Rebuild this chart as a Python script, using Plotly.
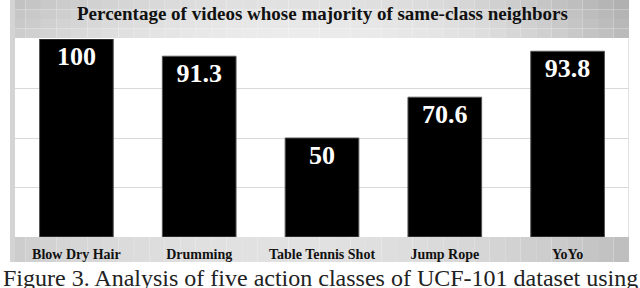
import plotly.graph_objects as go

categories = ["Blow Dry Hair", "Drumming", "Table Tennis Shot", "Jump Rope", "YoYo"]
values = [100, 91.3, 50, 70.6, 93.8]
title_text = "Percentage of videos whose majority of same-class neighbors"
caption_text = "Figure 3. Analysis of five action classes of UCF-101 dataset using"

W, H = 640, 288
L, R, T, B = 15, 11, 39, 51
PW, PH = W - L - R, H - T - B


def px_x(x):
    return (x - L) / PW


def px_y(y):
    return (H - B - y) / PH


def gray(v):
    v = int(max(0, min(255, v)))
    return f"rgb({v},{v},{v})"


shapes = []
# top title band with soft gradient
ncol, nrow = 40, 4
x0b, x1b = 10, 629
for i in range(ncol):
    xa = x0b + (x1b - x0b) * i / ncol
    xb = x0b + (x1b - x0b) * (i + 1) / ncol
    xc = (xa + xb) / 2
    for j in range(nrow):
        ya = 38 * j / nrow
        yb = 38 * (j + 1) / nrow
        yc = (ya + yb) / 2
        dx = (xc - 300) / 320
        dy = (38 - yc) / 38
        v = 238 - 40 * (dx * dx) - 14 * dy - (8 if dx > 0.5 else 0) * (dx - 0.5) * 2
        shapes.append(dict(type="rect", xref="paper", yref="paper",
                           x0=px_x(xa), x1=px_x(xb), y0=px_y(yb), y1=px_y(ya),
                           fillcolor=gray(v), line=dict(width=0), layer="below"))
# bottom band
for i in range(ncol):
    xa = x0b + (x1b - x0b) * i / ncol
    xb = x0b + (x1b - x0b) * (i + 1) / ncol
    xc = (xa + xb) / 2
    dx = (xc - 280) / 320
    v = 226 - 30 * dx * dx
    shapes.append(dict(type="rect", xref="paper", yref="paper",
                       x0=px_x(xa), x1=px_x(xb), y0=px_y(262), y1=px_y(237),
                       fillcolor=gray(v), line=dict(width=0), layer="below"))
# left frame strip
shapes.append(dict(type="rect", xref="paper", yref="paper",
                   x0=px_x(10), x1=px_x(15), y0=px_y(262), y1=px_y(0),
                   fillcolor=gray(212), line=dict(width=0), layer="below"))
# right thin edge line
shapes.append(dict(type="line", xref="paper", yref="paper",
                   x0=px_x(628.5), x1=px_x(628.5), y0=px_y(237), y1=px_y(39),
                   line=dict(color=gray(225), width=1), layer="below"))

fig = go.Figure()
fig.add_trace(go.Bar(
    x=categories, y=values,
    marker=dict(color="black", line=dict(color="#555555", width=1)),
    texttemplate="%{y}", textposition="inside", insidetextanchor="end",
    textfont=dict(family="Liberation Serif", size=26, color="white", weight="bold"),
    cliponaxis=False, hoverinfo="skip",
))

fig.update_layout(
    width=W, height=H,
    margin=dict(l=L, r=R, t=T, b=B, pad=0),
    paper_bgcolor="white", plot_bgcolor="white",
    bargap=0.4,
    showlegend=False,
    shapes=shapes,
    uniformtext=dict(mode=False),
    annotations=[
        dict(text=f"<b>{title_text}</b>", xref="paper", yref="paper",
             x=px_x(322), y=px_y(13), xanchor="center", yanchor="middle",
             showarrow=False,
             font=dict(family="Liberation Serif", size=19, color="#111111")),
        dict(text=caption_text, xref="paper", yref="paper",
             x=px_x(1), y=px_y(263), xanchor="left", yanchor="top",
             showarrow=False,
             font=dict(family="Liberation Serif", size=24, color="#222222")),
    ],
    xaxis=dict(
        showgrid=False, zeroline=False, showline=False, ticks="",
        tickfont=dict(family="Liberation Serif", size=14, color="#111111", weight="bold"),
        ticklabelstandoff=7,
    ),
    yaxis=dict(
        range=[0, 100], showticklabels=False, ticks="",
        showgrid=True, gridcolor="#d9d9d9", gridwidth=1,
        tickvals=[0, 25, 50, 75, 100], zeroline=False, showline=False,
    ),
)

fig.write_html(
    "out.html",
    config={"displayModeBar": False, "staticPlot": True},
    post_script="document.body.style.margin='0';document.body.style.overflow='hidden';",
)
